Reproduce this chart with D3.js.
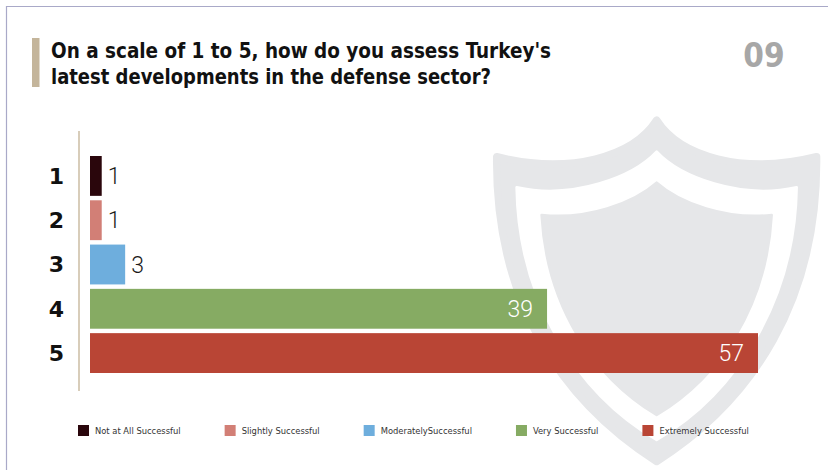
<!DOCTYPE html>
<html><head><meta charset="utf-8">
<script src="https://cdn.jsdelivr.net/npm/d3@7"></script>
<style>
html,body{margin:0;padding:0;background:#fff;}
svg{display:block;}
</style></head>
<body>
<script>
const categories = ["1","2","3","4","5"];
const values = [1, 1, 3, 39, 57];
const seriesNames = ["Not at All Successful","Slightly Successful","ModeratelySuccessful","Very Successful","Extremely Successful"];
const colors = ["#2a060c","#d27f76","#6eaedd","#86ab63","#b94535"];
const titleLines = ["On a scale of 1 to 5, how do you assess Turkey's","latest developments in the defense sector?"];
const pageNumber = "09";

const W = 828, H = 470;
const svg = d3.select("body").append("svg").attr("width", W).attr("height", H);

// frame
svg.append("line").attr("x1",6).attr("x2",W).attr("y1",6.5).attr("y2",6.5).attr("stroke","#a9a9c8").attr("stroke-width",1.2);
svg.append("line").attr("x1",6.5).attr("x2",6.5).attr("y1",6).attr("y2",H).attr("stroke","#a9a9c8").attr("stroke-width",1.2);

// shield watermark
const sh = svg.append("g").attr("transform","translate(460,100) scale(0.3333)");
sh.append("path").attr("d","M590,60 C520,170 330,225 110,170 C105,600 300,900 590,1085 C880,900 1075,600 1070,170 C850,225 660,170 590,60 Z")
  .attr("fill","#e6e7e9").attr("stroke","#e6e7e9").attr("stroke-width",22).attr("stroke-linejoin","round");
sh.append("path").attr("d","M590,155 C520,230 340,300 170,262 C175,600 350,880 590,1020 C830,880 1005,600 1010,262 C840,300 660,230 590,155 Z")
  .attr("fill","#fff").attr("stroke","#fff").attr("stroke-width",8).attr("stroke-linejoin","round");
sh.append("path").attr("d","M590,248 C520,310 380,360 245,345 C260,620 400,830 590,945 C780,830 920,620 935,345 C800,360 660,310 590,248 Z")
  .attr("fill","#e6e7e9").attr("stroke","#e6e7e9").attr("stroke-width",8).attr("stroke-linejoin","round");

// title
svg.append("rect").attr("x",32).attr("y",38).attr("width",7.5).attr("height",49).attr("fill","#c4b59b");
const tfont = "'DejaVu Sans Condensed','DejaVu Sans',sans-serif";
const tw = [500, 440];
titleLines.forEach((t,i)=>{
  svg.append("text").attr("x",51).attr("y",57.5+i*26).text(t)
    .attr("font-family",tfont).attr("font-stretch","condensed").attr("font-weight","bold").attr("font-size",22)
    .attr("fill","#111").attr("textLength",tw[i]).attr("lengthAdjust","spacingAndGlyphs");
});
svg.append("text").attr("x",764).attr("y",67).attr("text-anchor","middle").text(pageNumber)
  .attr("font-family","'DejaVu Sans Condensed','DejaVu Sans',sans-serif").attr("font-stretch","condensed")
  .attr("font-weight","bold").attr("font-size",33).attr("fill","#a7a7a7");

// scales
const y = d3.scaleBand().domain(categories).range([156,373]).paddingInner(0.1).paddingOuter(0);
const x = d3.scaleLinear().domain([0,57]).range([90,758]);

// axis line
svg.append("line").attr("x1",79).attr("x2",79).attr("y1",131).attr("y2",391).attr("stroke","#cbbda3").attr("stroke-width",1.5);

// category labels
svg.selectAll("text.cat").data(categories).join("text").attr("class","cat")
  .attr("x",64).attr("y",d=>y(d)+y.bandwidth()/2).attr("dy","0.36em").attr("text-anchor","end")
  .attr("font-family","'DejaVu Sans',sans-serif").attr("font-weight","900").attr("font-size",22).attr("fill","#111")
  .text(d=>d);

// bars
svg.selectAll("rect.bar").data(values).join("rect").attr("class","bar")
  .attr("x",x(0)).attr("y",(d,i)=>y(categories[i])).attr("height",y.bandwidth())
  .attr("width",d=>x(d)-x(0)).attr("fill",(d,i)=>colors[i]);

// value labels
svg.selectAll("text.val").data(values).join("text").attr("class","val")
  .attr("x",d=> d>10 ? x(d)-14 : x(d)+6)
  .attr("y",(d,i)=>y(categories[i])+y.bandwidth()/2).attr("dy","0.36em")
  .attr("text-anchor",d=> d>10 ? "end":"start")
  .attr("font-family","Roboto,'Open Sans',sans-serif").attr("font-weight",300).attr("font-size",23)
  .attr("fill",d=> d>10 ? "#fff":"#1a1a1a")
  .text(d=>d);

// legend
const lg = svg.append("g");
let lx = 78;
seriesNames.forEach((n,i)=>{
  lg.append("rect").attr("x",lx).attr("y",425).attr("width",11).attr("height",11).attr("fill",colors[i]);
  const t = lg.append("text").attr("x",lx+17).attr("y",433.5).text(n)
    .attr("font-family","'DejaVu Sans Condensed','DejaVu Sans',sans-serif").attr("font-stretch","condensed")
    .attr("font-size",9.3).attr("fill","#333");
  lx = lx + 17 + t.node().getComputedTextLength() + 44;
});
</script>
</body></html>
